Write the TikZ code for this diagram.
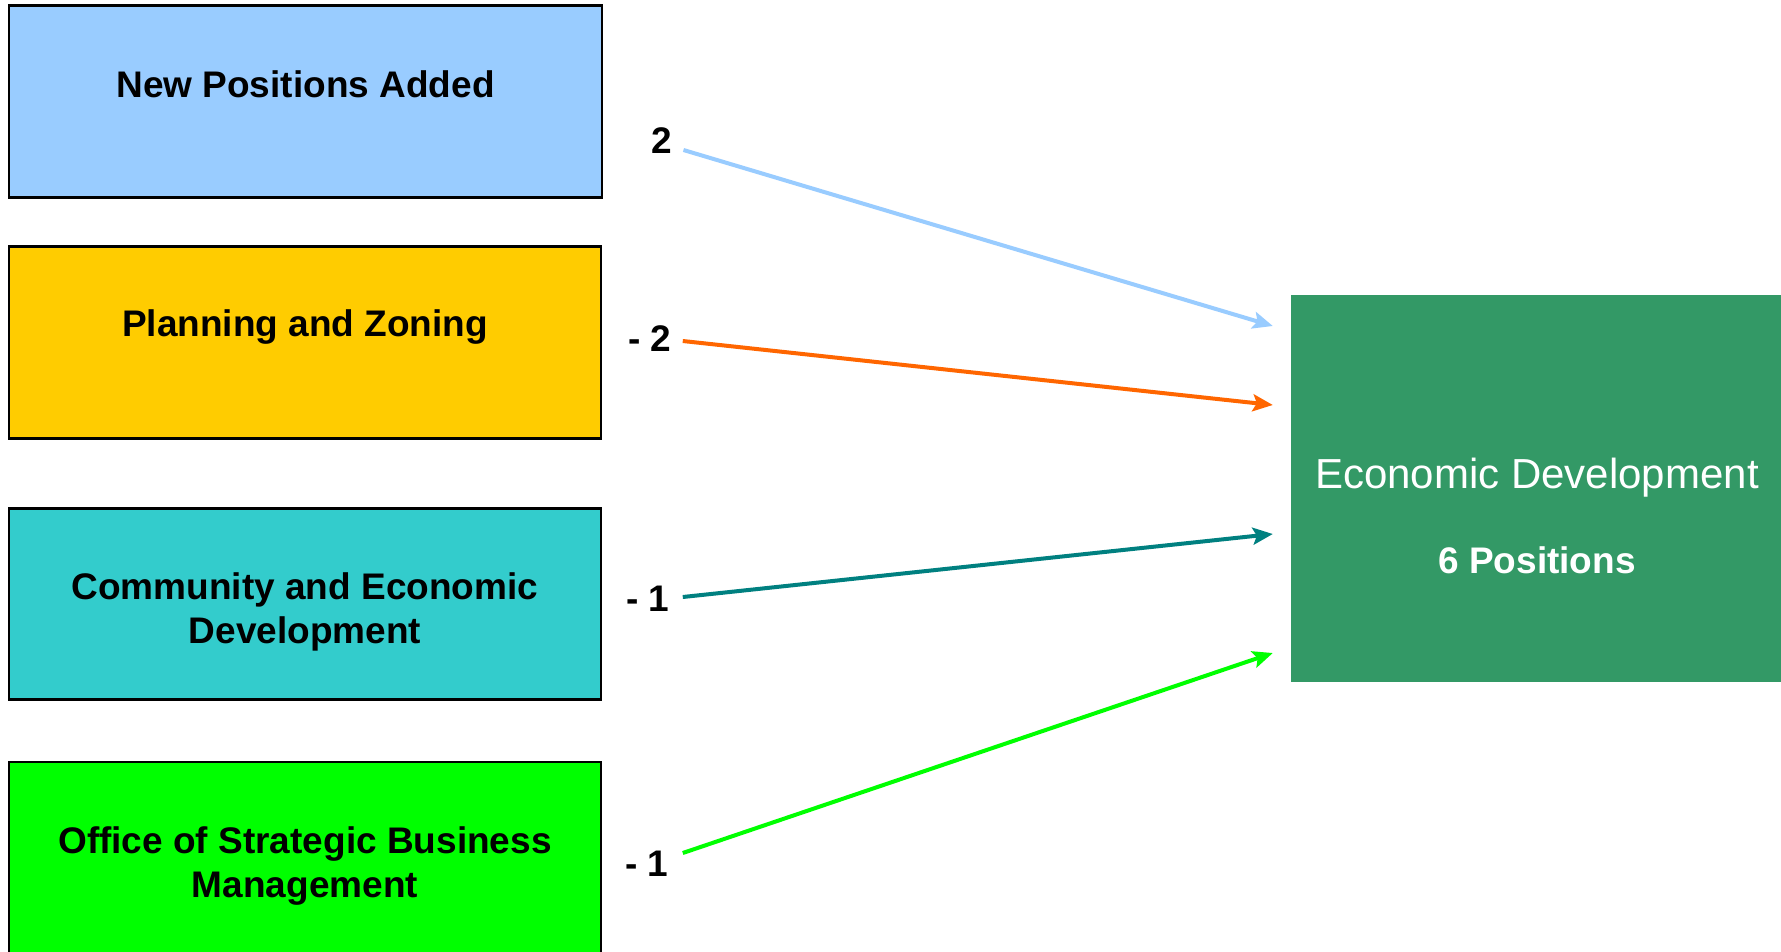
\documentclass[tikz,border=0pt]{standalone}
\usepackage{fontspec}
\setmainfont{Liberation Sans}
\usetikzlibrary{arrows.meta}
\definecolor{cblue}{HTML}{99CCFF}
\definecolor{cyellow}{HTML}{FFCC00}
\definecolor{cteal}{HTML}{33CCCC}
\definecolor{clime}{HTML}{00FF00}
\definecolor{cgreen}{HTML}{339966}
\definecolor{corange}{HTML}{FF6600}
\definecolor{cdteal}{HTML}{008080}
\begin{document}
\begin{tikzpicture}[x=1pt,y=-1pt,
  box/.style={draw=black,line width=2.5pt,rectangle,inner sep=0pt},
  btext/.style={font=\fontsize{37}{44}\selectfont\bfseries,align=center,inner sep=0pt},
  lbl/.style={font=\fontsize{37}{44}\selectfont\bfseries,inner sep=0pt},
  arr/.style={line width=4pt,-{Stealth[length=20pt,width=17pt,inset=4pt]}}]
\clip (0,0) rectangle (1781,951);
\fill[white] (0,0) rectangle (1781,951);
% left boxes
\node[box,fill=cblue,minimum width=593pt,minimum height=192pt] (b1) at (305.5,101.7) {};
\node[box,fill=cyellow,minimum width=592pt,minimum height=192pt] (b2) at (305,342.5) {};
\node[box,fill=cteal,minimum width=592pt,minimum height=191pt] (b3) at (305,604.2) {};
\node[box,fill=clime,minimum width=592pt,minimum height=192pt] (b4) at (305,858) {};
\node[btext] (t1) at (305.5,84) {New Positions Added};
\node[btext] (t2) at (305,327) {Planning and Zoning};
\node[btext] (t3) at (305,611.5) {Community and Economic\\Development};
\node[btext] (t4) at (305,866) {Office of Strategic Business\\Management};
% target box
\node[rectangle,fill=cgreen,inner sep=0pt,minimum width=509pt,minimum height=387pt] (eco) at (1545.5,488.5) {};
\node[font=\fontsize{42}{48}\selectfont,text=white,inner sep=0pt] (et) at (1537,478) {Economic Development};
\node[font=\fontsize{37}{44}\selectfont\bfseries,text=white,inner sep=0pt] (ep) at (1537,560) {6 Positions};
% labels
\node[lbl] (l1) at (662,141) {2};
\node[lbl] (l2) at (650,339) {- 2};
\node[lbl] (l3) at (648,599) {- 1};
\node[lbl] (l4) at (647,864) {- 1};
% arrow end points
\coordinate (e1) at ([shift={(-18,-162.5)}]eco.west);
\coordinate (e2) at ([shift={(-18,-83.5)}]eco.west);
\coordinate (e3) at ([shift={(-18,45.5)}]eco.west);
\coordinate (e4) at ([shift={(-18,164.5)}]eco.west);
% arrows
\draw[arr,cblue] ([shift={(11,9)}]l1.east) -- (e1);
\draw[arr,corange] ([shift={(11,2)}]l2.east) -- (e2);
\draw[arr,cdteal] ([shift={(13,-2)}]l3.east) -- (e3);
\draw[arr,clime] ([shift={(14,-11)}]l4.east) -- (e4);
\end{tikzpicture}
\end{document}
